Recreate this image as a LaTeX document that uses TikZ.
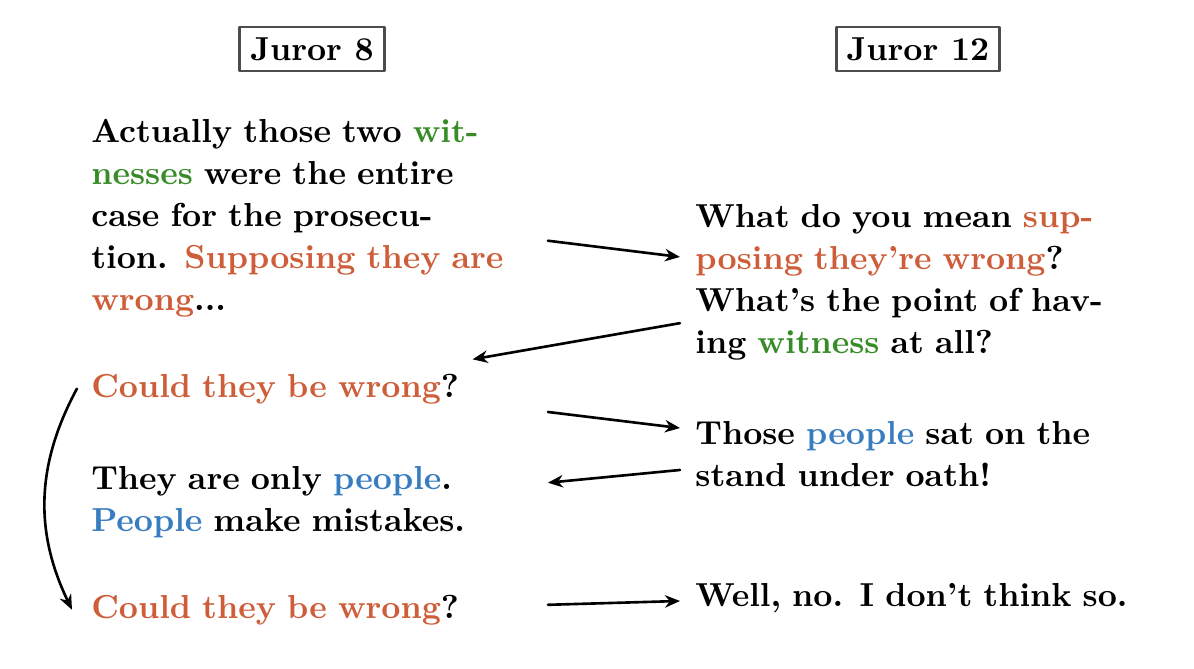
\documentclass[tikz,border=0pt]{standalone}
\usepackage{xcolor}
\usetikzlibrary{arrows.meta}
\definecolor{wrongcol}{RGB}{206,94,58}
\definecolor{witcol}{RGB}{55,140,40}
\definecolor{peoplecol}{RGB}{55,125,192}
\newcommand{\wrg}[1]{\textcolor{wrongcol}{#1}}
\newcommand{\wtn}[1]{\textcolor{witcol}{#1}}
\newcommand{\ppl}[1]{\textcolor{peoplecol}{#1}}
\tikzset{
  juror/.style={draw=black!70, inner sep=3.2pt},
  lefttext/.style={anchor=base west, inner sep=0pt, text width=139pt, align=left},
  righttext/.style={anchor=base west, inner xsep=4.3pt, inner ysep=0pt, text width=140pt, align=left},
}
\begin{document}
\begin{tikzpicture}[x=0.3053pt,y=-0.3053pt,font=\fontsize{10.15pt}{12.83pt}\selectfont\bfseries,line join=round,line cap=round,>={Stealth[length=4.6pt,width=3.8pt]},thick]
	\useasboundingbox (0,0) rectangle (1194,668);
	% column heads
	\node[juror] (j8) at (312,49) {Juror 8};
	\node[juror] (j12) at (918,49) {Juror 12};
	% left column
	\node[lefttext] (a1) at (90,142) {Actually those two \wtn{wit-}\\\wtn{nesses} were the entire\\case for the prosecu-\\tion. \wrg{Supposing they are}\\\wrg{wrong}...};
	\node[lefttext] (a2) at (90,397) {\wrg{Could they be wrong}?};
	\node[lefttext] (a3) at (90,489) {They are only \ppl{people}.\\\ppl{People} make mistakes.};
	\node[lefttext] (a4) at (90,618) {\wrg{Could they be wrong}?};
	% right column
	\node[righttext] (b1) at (680,227) {What do you mean \wrg{sup-}\\\wrg{posing they're wrong}?\\What's the point of hav-\\ing \wtn{witness} at all?};
	\node[righttext] (b2) at (680,444) {Those \ppl{people} sat on the\\stand under oath!};
	\node[righttext] (b3) at (680,606) {Well, no. I don't think so.};
	% exchanges
	\draw[->] ([yshift=-7pt]a1.east) -- ([yshift=7.6pt]b1.west);
	\draw[->] ([yshift=-12.6pt]b1.west) -- ([xshift=-23pt,yshift=4pt]a2.north east);
	\draw[->] ([yshift=-7.1pt]a2.east) -- ([yshift=7.8pt]b2.west);
	\draw[->] ([yshift=-5pt]b2.west) -- ([yshift=5.8pt]a3.east);
	\draw[->] ([yshift=1.5pt]a4.east) -- ([yshift=-1pt]b3.west);
	\draw[->] ([xshift=-4pt]a2.west) to[bend right=27] ([xshift=-5.5pt]a4.west);
\end{tikzpicture}
\end{document}
